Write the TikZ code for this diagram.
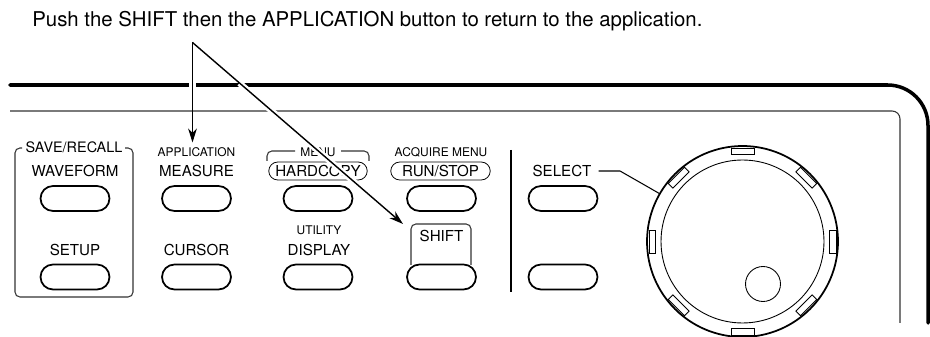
\documentclass[tikz,border=0pt]{standalone}
\usepackage{fontspec}
\setmainfont{TeX Gyre Heros}
\usetikzlibrary{shapes.misc,arrows.meta}
\tikzset{
	btn/.style={draw,rounded rectangle,line width=1pt,minimum width=1.38cm,minimum height=0.5cm,inner sep=0pt},
	lbl/.style={font=\fontsize{8.6}{10}\selectfont,inner sep=1pt},
	small/.style={font=\fontsize{6.8}{8}\selectfont,inner sep=1pt},
	pill/.style={draw,rounded rectangle,line width=0.45pt,minimum height=0.36cm,inner sep=0pt},
	panel/.style={line width=0.6pt,black!80},
	pointer/.style={-{Stealth[length=8pt,width=5pt,inset=2.5pt]},line width=0.8pt},
	halo/.style={white,line width=3.5pt}
}
\begin{document}
\begin{tikzpicture}[x=0.02cm,y=-0.02cm]
	\useasboundingbox (0,0) rectangle (930,337);
	% panel outline
	\draw[line width=2pt,line cap=round,rounded corners=23pt] (10,85) -- (928,85) -- (928,323);
	\draw[panel,rounded corners=4.5pt] (10,111) -- (900,111) -- (900,323);
	% buttons
	\node[btn] (waveform) at (75,198.5) {};
	\node[btn] (setup) at (75,277) {};
	\node[btn] (measure) at (196.5,198.5) {};
	\node[btn] (cursor) at (196.5,277) {};
	\node[btn] (hardcopy) at (318,198.5) {};
	\node[btn] (display) at (318,277) {};
	\node[btn] (runstop) at (441.5,198.5) {};
	\node[btn] (shift) at (441.5,277) {};
	\node[btn] (select) at (563,198.5) {};
	\node[btn] (blank) at (563,277) {};
	% labels
	\node[lbl] (waveformlbl) at (75,171) {WAVEFORM};
	\node[lbl] (setuplbl) at (75,250) {SETUP};
	\node[lbl] (measurelbl) at (196.5,171) {MEASURE};
	\node[lbl] (cursorlbl) at (196.5,250) {CURSOR};
	\node[lbl] (displaylbl) at (319,250) {DISPLAY};
	\node[lbl] (selectlbl) at (562,171) {SELECT};
	\node[lbl] (shiftlbl) at (441.5,236) {SHIFT};
	\node[lbl,font=\fontsize{8.2}{10}\selectfont] (saverecall) at (74,147) {SAVE/RECALL};
	\node[small] (application) at (196.5,152) {APPLICATION};
	\node[small] (acquire) at (441,152) {ACQUIRE MENU};
	\node[small] (utility) at (319,230) {UTILITY};
	\node[small] (menu) at (318,152) {MENU};
	\node[pill,minimum width=2.04cm,lbl] (hardcopylbl) at (318,171) {HARDCOPY};
	\node[pill,minimum width=2.06cm,lbl] (runstoplbl) at (440.5,171) {RUN/STOP};
	% brackets
	\draw[panel,rounded corners=2.8pt] (22,148) -- (15,148) -- (15,297) -- (133,297) -- (133,148) -- (125,148);
	\draw[panel,rounded corners=2.8pt] (267,161) -- (267,151) -- (295,151);
	\draw[panel,rounded corners=2.8pt] (341,151) -- (369,151) -- (369,161);
	\draw[panel,rounded corners=2.8pt] (411,265) -- (411,224) -- (471,224) -- (471,265);
	\draw[line width=0.7pt] (511,150) -- (511,292);
	% knob
	\node[draw,circle,line width=1pt,minimum size=3.82cm,inner sep=0pt] (knob) at (742.5,241.5) {};
	\node[draw,circle,line width=0.5pt,minimum size=3.26cm,inner sep=0pt] (dial) at (742.5,241.5) {};
	\node[draw,circle,line width=0.5pt,minimum size=0.7cm,inner sep=0pt] (grip) at (763,284) {};
	\foreach \a in {0,45,...,315}
		\draw[line width=0.5pt,rotate around={\a:(742.5,241.5)}] (731,148) rectangle (754,154.5);
	\draw[line width=0.6pt] (selectlbl.east) ++(5,0) -- (620,171) -- (knob.150);
	% text and arrows
	\node[font=\fontsize{11.6}{14}\selectfont,anchor=base west,inner sep=0pt] (push) at (32,27) {Push the SHIFT then the APPLICATION button to return to the application.};
	\coordinate (apex) at (192.5,42.5);
	\coordinate (apptip) at (192.5,142.5);
	\coordinate (shifttip) at (403,224);
	\draw[halo] (192.5,75) -- (192.5,95);
	\draw[halo] (apex) ++(47,40.7) -- (shifttip);
	\draw[pointer] (apex) -- (apptip);
	\draw[pointer] (apex) -- (shifttip);
\end{tikzpicture}
\end{document}
